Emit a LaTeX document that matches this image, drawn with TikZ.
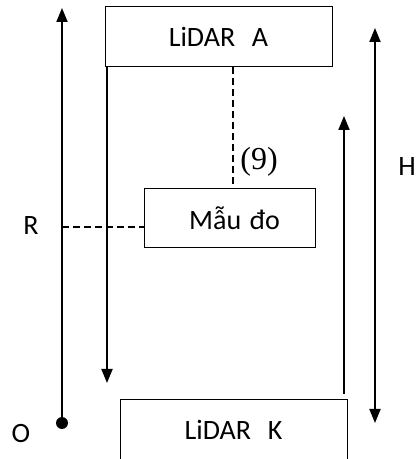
\documentclass[tikz,border=0pt]{standalone}
\usepackage{fontspec}
\setmainfont{Carlito}
\newfontfamily\serifnum{Liberation Serif}
\usetikzlibrary{arrows.meta}
\begin{document}
\begin{tikzpicture}[x=1pt,y=1pt,
  box/.style={draw,line width=1pt,inner sep=0pt,font=\fontsize{28}{32}\selectfont},
  arr/.style={line width=2pt,-{Triangle[length=14pt,width=11pt]}},
  dsh/.style={line width=1.4pt,dash pattern=on 7pt off 4pt},
  lbl/.style={font=\fontsize{28}{32}\selectfont}]
\useasboundingbox (0,0) rectangle (417,459);
\node[box,minimum width=227pt,minimum height=60pt] (A) at (218.5,422) {LiDAR\hspace{0.6em}A};
\node[box,minimum width=171pt,minimum height=59pt] (M) at (229.5,240.5) {\hspace{10pt}Mẫu\hspace{0.3em}đo};
\node[box,minimum width=227pt,minimum height=60pt] (K) at (233.5,29) {LiDAR\hspace{0.6em}K};
\coordinate (O) at (62,36);
\coordinate (Rtop) at (62,451);
\coordinate (Dend) at (107,76);
\coordinate (Rdash) at (62,232);
\coordinate (Ubot) at (344,65);
\coordinate (Utop) at (344,343);
\coordinate (Hbot) at (375,36);
\coordinate (Htop) at (375,431);
\fill (O) circle (6pt);
\draw[arr] (O) -- (Rtop);
\draw[arr] (A.south west -| Dend) -- (Dend);
\draw[dsh] (A.south -| 233,0) -- (M.north -| 233,0);
\draw[dsh] (Rdash) -- (Rdash -| M.west);
\draw[arr] (Ubot) -- (Utop);
\draw[line width=2pt,{Triangle[length=14pt,width=11pt]}-{Triangle[length=14pt,width=11pt]}] (Hbot) -- (Htop);
\node[lbl] (Rl) at (31,233) {R};
\node[lbl] (Ol) at (21,25) {O};
\node[lbl] (Hl) at (407,292) {H};
\node[font=\serifnum\fontsize{32}{36}\selectfont] (n9) at (259,297) {(9)};
\end{tikzpicture}
\end{document}
